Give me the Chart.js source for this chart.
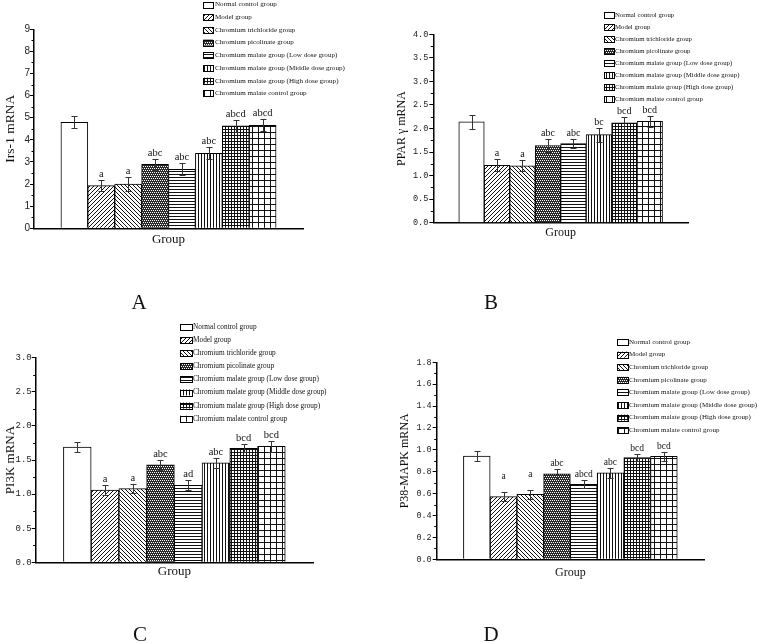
<!DOCTYPE html>
<html>
<head>
<meta charset="utf-8">
<script src="https://cdn.jsdelivr.net/npm/chart.js@4.4.1/dist/chart.umd.min.js"></script>
<style>
html,body{margin:0;padding:0;background:#fff;width:757px;height:643px;overflow:hidden;position:relative}
canvas{position:absolute}
.lab{position:absolute;font-family:"Liberation Serif","Times New Roman",serif;font-size:21px;color:#111;transform:translate(-50%,-50%);line-height:1}
</style>
</head>
<body>
<canvas id="cA" width="378" height="320" style="left:0;top:0"></canvas>
<canvas id="cB" width="379" height="320" style="left:378px;top:0"></canvas>
<canvas id="cC" width="378" height="323" style="left:0;top:320px"></canvas>
<canvas id="cD" width="379" height="323" style="left:378px;top:320px"></canvas>
<div class="lab" style="left:139px;top:302px">A</div>
<div class="lab" style="left:491px;top:302px">B</div>
<div class="lab" style="left:140px;top:634px">C</div>
<div class="lab" style="left:491px;top:634px">D</div>
<script>
// ---------- data ----------
const groups = [
  'Normal control group',
  'Model group',
  'Chromium trichloride group',
  'Chromium picolinate group',
  'Chromium malate group (Low dose group)',
  'Chromium malate group (Middle dose group)',
  'Chromium malate group (High dose group)',
  'Chromium malate control group'
];

const irs1Mean = [4.79, 1.93, 2.00, 2.89, 2.67, 3.39, 4.63, 4.66];
const irs1Err  = [0.27, 0.25, 0.30, 0.24, 0.27, 0.27, 0.27, 0.28];
const irs1Sig  = ['', 'a', 'a', 'abc', 'abc', 'abc', 'abcd', 'abcd'];
const irs1Ticks = ['0','1','2','3','4','5','6','7','8','9'];

const pparMean = [2.14, 1.22, 1.21, 1.64, 1.68, 1.87, 2.12, 2.15];
const pparErr  = [0.14, 0.13, 0.12, 0.14, 0.10, 0.15, 0.13, 0.12];
const pparSig  = ['', 'a', 'a', 'abc', 'abc', 'bc', 'bcd', 'bcd'];
const pparTicks = ['0.0','0.5','1.0','1.5','2.0','2.5','3.0','3.5','4.0'];

const pi3kMean = [1.69, 1.06, 1.08, 1.43, 1.13, 1.46, 1.67, 1.70];
const pi3kErr  = [0.07, 0.07, 0.07, 0.07, 0.07, 0.07, 0.06, 0.08];
const pi3kSig  = ['', 'a', 'a', 'abc', 'ad', 'abc', 'bcd', 'bcd'];
const pi3kTicks = ['0.0','0.5','1.0','1.5','2.0','2.5','3.0'];

const p38Mean = [0.944, 0.572, 0.594, 0.780, 0.685, 0.790, 0.930, 0.940];
const p38Err  = [0.046, 0.043, 0.042, 0.045, 0.037, 0.045, 0.030, 0.040];
const p38Sig  = ['', 'a', 'a', 'abc', 'abcd', 'abc', 'bcd', 'bcd'];
const p38Ticks = ['0.0','0.2','0.4','0.6','0.8','1.0','1.2','1.4','1.6','1.8'];

// ---------- fill patterns ----------
const patternKinds = ['blank','fwd','back','dots','horiz','vert','fine','coarse'];
function makePattern(kind) {
  const defs = {
    fwd:    {n:4, f:(x,y)=> (x+y)%4===3},
    back:   {n:4, f:(x,y)=> x===y},
    dots:   {n:4, f:(x,y)=> !((y===0&&(x===0||x===2))||(y===2&&(x===1||x===3)))},
    horiz:  {n:3, f:(x,y)=> y===0},
    vert:   {n:3, f:(x,y)=> x===0},
    fine:   {n:3, f:(x,y)=> x===0||y===0},
    coarse: {n:6, f:(x,y)=> x===0||y===0}
  };
  const d = defs[kind];
  if (!d) return '#ffffff';
  const c = document.createElement('canvas');
  c.width = c.height = d.n;
  const g = c.getContext('2d');
  g.fillStyle = '#fff'; g.fillRect(0,0,d.n,d.n);
  g.fillStyle = kind === 'dots' ? '#2a2a2a' : '#111';
  for (let y=0;y<d.n;y++) for (let x=0;x<d.n;x++) if (d.f(x,y)) g.fillRect(x,y,1,1);
  return g.createPattern(c,'repeat');
}
const fills = patternKinds.map(makePattern);

// ---------- plugins ----------
const errPlugin = {
  id: 'errLetters',
  afterDatasetsDraw(chart, args, o) {
    const ctx = chart.ctx, ys = chart.scales.y, meta = chart.getDatasetMeta(0);
    const ds = chart.data.datasets[0];
    ctx.save();
    ctx.strokeStyle = '#333'; ctx.lineWidth = 1;
    meta.data.forEach((bar, i) => {
      const v = ds.data[i];
      if (v == null) return;
      const e = ds.errors[i];
      const x = Math.round(bar.x) + 0.5;
      const yt = Math.round(ys.getPixelForValue(v + e)) + 0.5;
      const yb = Math.round(ys.getPixelForValue(v - e)) + 0.5;
      ctx.beginPath();
      ctx.moveTo(x, yt); ctx.lineTo(x, yb);
      ctx.moveTo(x - o.cap, yt); ctx.lineTo(x + o.cap, yt);
      ctx.moveTo(x - o.cap, yb); ctx.lineTo(x + o.cap, yb);
      ctx.stroke();
      const s = ds.letters[i];
      if (s) {
        const lift = (o.lift && o.lift[i - 1]) || 0;
        ctx.fillStyle = '#111';
        ctx.font = o.font;
        ctx.textAlign = 'center';
        ctx.textBaseline = 'alphabetic';
        ctx.fillText(s, bar.x, yt - o.gap - lift);
      }
    });
    ctx.restore();
  }
};

const minorPlugin = {
  id: 'minorTicks',
  afterDraw(chart, args, o) {
    const ctx = chart.ctx, s = chart.scales.y, t = s.ticks;
    ctx.save();
    ctx.strokeStyle = '#000'; ctx.lineWidth = 1;
    ctx.beginPath();
    for (let i = 0; i < t.length - 1; i++) {
      const py = Math.round(s.getPixelForValue((t[i].value + t[i+1].value) / 2)) + 0.5;
      ctx.moveTo(s.right - o.len, py); ctx.lineTo(s.right, py);
    }
    ctx.stroke();
    ctx.restore();
  }
};

const legendPlugin = {
  id: 'patternLegend',
  afterDraw(chart, args, o) {
    const ctx = chart.ctx;
    ctx.save();
    ctx.font = o.font;
    ctx.textAlign = 'left';
    ctx.textBaseline = 'middle';
    o.labels.forEach((lab, i) => {
      const cy = o.y + i * o.step;
      ctx.fillStyle = o.fills[i];
      ctx.fillRect(o.boxX, cy - o.boxH/2, o.boxW, o.boxH);
      ctx.strokeStyle = '#000'; ctx.lineWidth = 1;
      ctx.strokeRect(Math.round(o.boxX)+0.5, Math.round(cy - o.boxH/2)+0.5, o.boxW, o.boxH);
      ctx.fillStyle = '#111';
      ctx.fillText(lab, o.textX, cy);
    });
    ctx.restore();
  }
};

// ---------- chart builder ----------
const SERIF = '"Liberation Serif","Times New Roman",serif';

function build(id, cfg) {
  const step = parseFloat(cfg.ticks[1]) - parseFloat(cfg.ticks[0]);
  const max = parseFloat(cfg.ticks[cfg.ticks.length - 1]);
  return new Chart(document.getElementById(id), {
    type: 'bar',
    data: {
      labels: [''].concat(groups, ['']),
      datasets: [{
        data: [null].concat(cfg.mean, [null]),
        errors: [null].concat(cfg.err, [null]),
        letters: [''].concat(cfg.sig, ['']),
        backgroundColor: ['#fff'].concat(fills, ['#fff']),
        borderColor: '#000',
        borderWidth: 1,
        barPercentage: 1,
        categoryPercentage: 1
      }]
    },
    options: {
      responsive: false,
      animation: false,
      events: [],
      layout: { padding: cfg.pad },
      plugins: {
        legend: { display: false },
        tooltip: { enabled: false },
        errLetters: { cap: 3, gap: cfg.gap, font: cfg.sigFont, lift: cfg.lift },
        minorTicks: { len: 2.5 },
        patternLegend: Object.assign({ labels: groups, fills: fills, boxH: 6 }, cfg.legend)
      },
      scales: {
        x: {
          type: 'category',
          offset: true,
          grid: { display: false },
          ticks: { display: false },
          border: { display: true, color: '#000', width: 1.5 },
          title: { display: true, text: 'Group', color: '#111', padding: 0,
                   font: { family: SERIF, size: cfg.xFont } },
          afterFit(s) { s.height = cfg.xh; }
        },
        y: {
          min: 0, max: max,
          ticks: { stepSize: step, color: '#222', padding: cfg.tickPad,
                   font: { family: cfg.tickFamily, size: cfg.tickSize },
                   callback: (v, i) => cfg.ticks[i] },
          grid: { display: true, drawOnChartArea: false, drawTicks: true, tickLength: 4,
                  tickColor: '#000', tickWidth: 1 },
          border: { display: true, color: '#000', width: 1.5 },
          title: { display: true, text: cfg.yTitle, color: '#111',
                   padding: { top: cfg.yTitlePad, bottom: 0 },
                   font: { family: SERIF, size: cfg.yFont } },
          afterFit(s) { s.width = cfg.yw; }
        }
      }
    },
    plugins: [errPlugin, minorPlugin, legendPlugin]
  });
}

build('cA', {
  mean: irs1Mean, err: irs1Err, sig: irs1Sig, ticks: irs1Ticks, yTitle: 'Irs-1 mRNA',
  pad: { left: 0, right: 75, top: 29.3, bottom: 72.2 }, yw: 34, xh: 19.5,
  tickFamily: '"Liberation Sans",Arial,sans-serif', tickSize: 10, tickPad: 0,
  yFont: 13.5, yTitlePad: 2, xFont: 13, gap: 4, sigFont: '10.5px ' + SERIF,
  legend: { boxX: 203, boxW: 10, textX: 215, y: 4.5, step: 12.7, font: '7.1px ' + SERIF }
});
build('cB', {
  mean: pparMean, err: pparErr, sig: pparSig, ticks: pparTicks, yTitle: 'PPAR γ mRNA',
  pad: { left: 0, right: 69, top: 34.3, bottom: 79.5 }, yw: 55.3, xh: 17.8,
  tickFamily: '"Liberation Mono",monospace', tickSize: 8.5, tickPad: 1,
  yFont: 12, yTitlePad: 16.8, xFont: 12, gap: 4, sigFont: '10px ' + SERIF,
  legend: { boxX: 226, boxW: 10, textX: 237, y: 15, step: 12, font: '6.8px ' + SERIF }
});
build('cC', {
  mean: pi3kMean, err: pi3kErr, sig: pi3kSig, ticks: pi3kTicks, yTitle: 'PI3K mRNA',
  pad: { left: 0, right: 65, top: 37.7, bottom: 63.2 }, yw: 35.7, xh: 17.5,
  tickFamily: '"Liberation Mono",monospace', tickSize: 9, tickPad: 0,
  yFont: 13, yTitlePad: 3.2, xFont: 13, gap: 4, sigFont: '10.5px ' + SERIF,
  legend: { boxX: 180, boxW: 12, textX: 193, y: 7, step: 13.1, font: '7.3px ' + SERIF }
});
build('cD', {
  mean: p38Mean, err: p38Err, sig: p38Sig, ticks: p38Ticks, yTitle: 'P38-MAPK mRNA',
  pad: { left: 0, right: 53, top: 42.3, bottom: 62.8 }, yw: 58.7, xh: 20.9,
  tickFamily: '"Liberation Mono",monospace', tickSize: 8.5, tickPad: 1,
  yFont: 12, yTitlePad: 19.5, xFont: 12, gap: 4, sigFont: '9.5px ' + SERIF,
  lift: [0, 10, 10, 0, 0, 0, 0, 0],
  legend: { boxX: 239, boxW: 11, textX: 251, y: 22, step: 12.6, font: '7px ' + SERIF }
});
</script>
</body>
</html>
